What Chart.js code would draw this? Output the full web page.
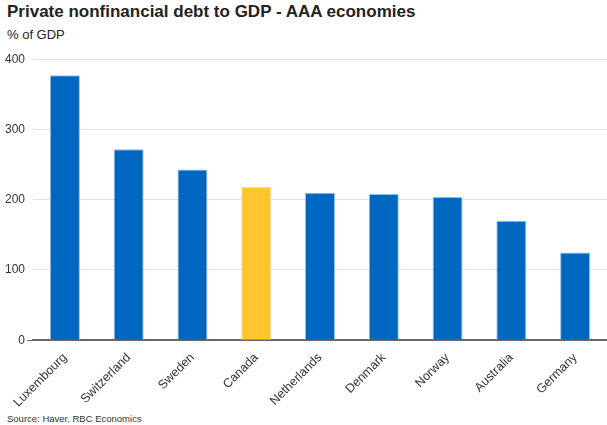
<!DOCTYPE html>
<html>
<head>
<meta charset="utf-8">
<script src="https://cdn.jsdelivr.net/npm/chart.js@4"></script>
<style>
  body { margin: 0; background: #fff; font-family: "Liberation Sans", Arial, sans-serif; }
  #wrap { position: relative; width: 607px; height: 425px; overflow: hidden; }
  #title { position: absolute; left: 7px; top: 2px; font-size: 17px; font-weight: bold; color: #222; }
  #sub { position: absolute; left: 7px; top: 27px; font-size: 13px; color: #222; }
  #src { position: absolute; left: 7px; top: 413px; font-size: 9.5px; color: #333; }
  #box { position: absolute; left: 0; top: 50px; width: 607px; height: 362px; }
</style>
</head>
<body>
<div id="wrap">
  <div id="title">Private nonfinancial debt to GDP - AAA economies</div>
  <div id="sub">% of GDP</div>
  <div id="box"><canvas id="debtchart"></canvas></div>
  <div id="src">Source: Haver, RBC Economics</div>
</div>
<script>
// data
const countries = ['Luxembourg', 'Switzerland', 'Sweden', 'Canada', 'Netherlands',
  'Denmark', 'Norway', 'Australia', 'Germany'];
const debtToGdp = [377, 272, 243, 218, 210, 208, 204, 170, 125];
const yTicks = [0, 100, 200, 300, 400];

const blue = '#0067c0';
const yellow = '#ffc52e';

const config = {
  type: 'bar',
  data: {
    labels: countries,
    datasets: [{
      data: debtToGdp,
      backgroundColor: countries.map(c => c == 'Canada' ? yellow : blue),
      borderColor: countries.map(c => c == 'Canada' ? '#ffe08a' : '#8fbde8'),
      borderWidth: 1,
      borderSkipped: 'bottom',
      categoryPercentage: 1,
      barPercentage: 0.47
    }]
  },
  options: {
    responsive: true,
    maintainAspectRatio: false,
    animation: false,
    layout: { padding: { top: 8, right: 0, left: 3, bottom: 0 } },
    plugins: {
      legend: { display: false },
      tooltip: { enabled: false }
    },
    scales: {
      x: {
        grid: { display: false },
        border: { color: '#666', width: 2 },
        ticks: {
          color: '#333',
          font: { family: 'Liberation Sans', size: 12.5 },
          maxRotation: 45,
          minRotation: 45,
          padding: 2
        }
      },
      y: {
        min: 0,
        max: 400,
        afterBuildTicks: axis => { axis.ticks = yTicks.map(v => ({ value: v })); },
        border: { display: false },
        grid: {
          color: ctx => ctx.tick && ctx.tick.value === 0 ? '#666' : '#e3e3e3',
          tickColor: ctx => ctx.tick && ctx.tick.value === 0 ? '#666' : 'rgba(0,0,0,0)',
          tickLength: 6
        },
        ticks: {
          color: '#333',
          font: { family: 'Liberation Sans', size: 12 },
          padding: 2
        }
      }
    }
  }
};

const debtChart = new Chart(document.getElementById('debtchart'), config);
</script>
</body>
</html>
